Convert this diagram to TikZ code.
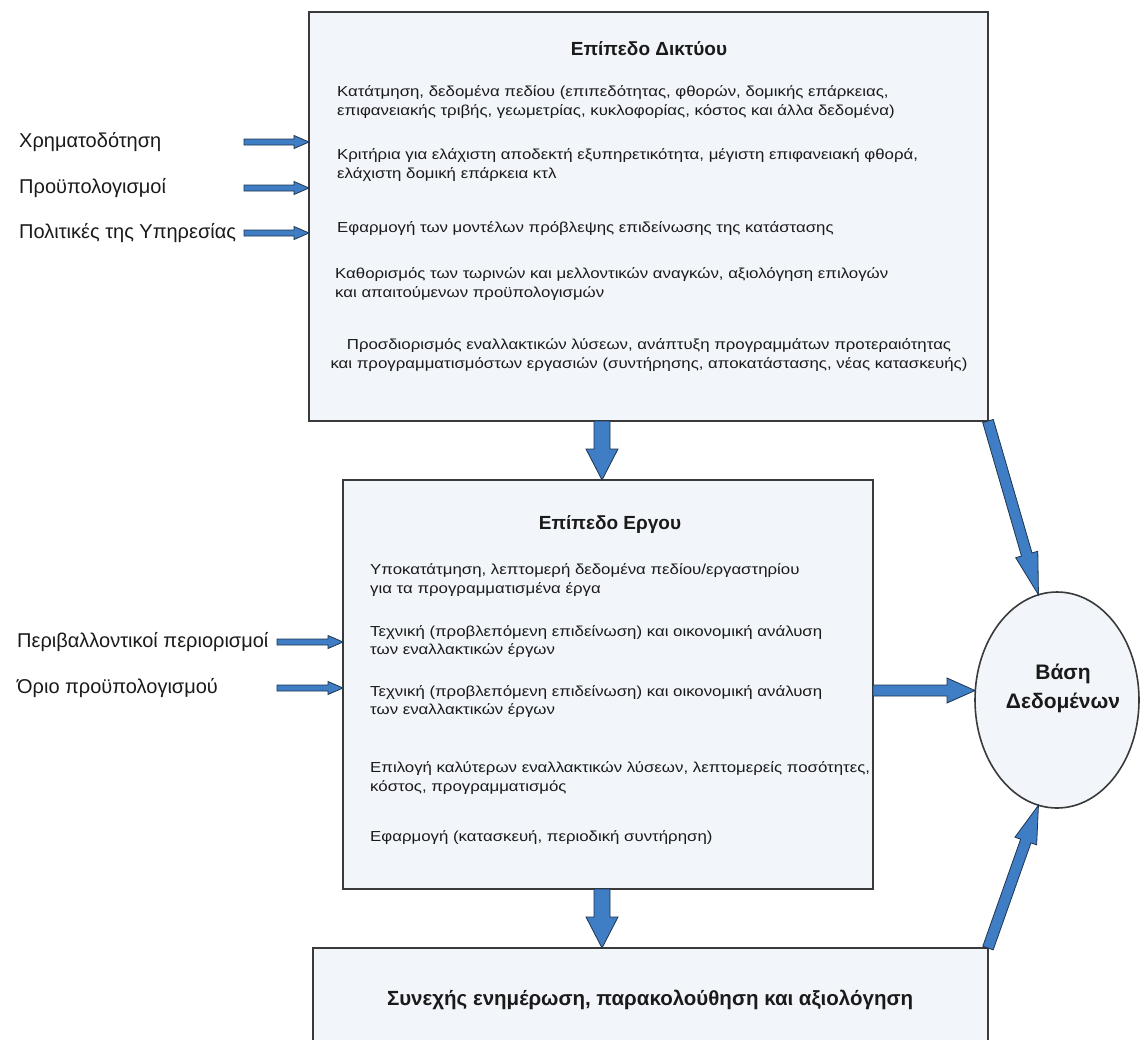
\documentclass[tikz,border=0pt]{standalone}
\usepackage{fontspec}
\setmainfont{Liberation Sans}
\newfontfamily\bodyfont{Liberation Sans}[FakeStretch=1.16]
\usetikzlibrary{calc,shapes.geometric}
\definecolor{panelfill}{HTML}{F2F6FA}
\definecolor{panelline}{HTML}{3A3A3A}
\definecolor{arrowblue}{HTML}{3F7DC4}
\definecolor{arrowline}{HTML}{1F3550}
\definecolor{inktext}{HTML}{1A1A1A}

% Block arrow: #1 start, #2 tip, #3 half shaft width, #4 half head width, #5 head length
\newcommand\blockarrow[5]{%
  \path (#1) coordinate (bas) (#2) coordinate (bae);
  \path ($(bae)!#5!(bas)$) coordinate (bah);
  \filldraw[flowarrow]
    ($(bas)!#3!90:(bae)$) -- ($(bah)!#3!90:(bae)$) -- ($(bah)!#4!90:(bae)$) -- (bae)
    -- ($(bah)!#4!-90:(bae)$) -- ($(bah)!#3!-90:(bae)$) -- ($(bas)!#3!-90:(bae)$) -- cycle;
}

\begin{document}
\begin{tikzpicture}[x=1pt,y=-1pt,
  panel/.style={draw=panelline, line width=1.6pt, fill=panelfill, rectangle, inner sep=0pt, outer sep=0pt, anchor=north west},
  heading/.style={font=\bfseries\fontsize{19}{22}\selectfont, text=inktext, inner sep=0pt},
  body/.style={font=\bodyfont\fontsize{14.5}{18.5}\selectfont, text=inktext, align=left, inner sep=0pt, anchor=west},
  sidelabel/.style={font=\fontsize{20}{23}\selectfont, text=inktext, inner sep=0pt, anchor=west},
  dbtext/.style={font=\bfseries\fontsize{21}{29}\selectfont, text=inktext, align=center, inner sep=0pt},
  flowarrow/.style={fill=arrowblue, draw=arrowline, line width=0.8pt, line join=miter}]

\useasboundingbox[fill=white] (0,0) rectangle (1140,1039);

% panels and the database
\node[panel, minimum width=679pt, minimum height=409pt] (net) at (309,12) {};
\node[panel, minimum width=530pt, minimum height=409pt] (proj) at (343,480) {};
\node[panel, minimum width=675pt, minimum height=120pt] (mon) at (313,948) {};
\node[draw=panelline, line width=1.6pt, fill=panelfill, ellipse, minimum width=164pt, minimum height=216pt, inner sep=0pt, outer sep=0pt] (db) at (1057,700) {};
\node[dbtext] (dblabel) at (1063,688) {Βάση\\Δεδομένων};

% network level
\node[heading] (netT) at (649,49) {Επίπεδο Δικτύου};
\node[body] (n1) at (337,102) {Κατάτμηση, δεδομένα πεδίου (επιπεδότητας, φθορών, δομικής επάρκειας,\\επιφανειακής τριβής, γεωμετρίας, κυκλοφορίας, κόστος και άλλα δεδομένα)};
\node[body] (n2) at (337,165) {Κριτήρια για ελάχιστη αποδεκτή εξυπηρετικότητα, μέγιστη επιφανειακή φθορά,\\ελάχιστη δομική επάρκεια κτλ};
\node[body] (n3) at (337,229) {Εφαρμογή των μοντέλων πρόβλεψης επιδείνωσης της κατάστασης};
\node[body] (n4) at (335,284) {Καθορισμός των τωρινών και μελλοντικών αναγκών, αξιολόγηση επιλογών\\και απαιτούμενων προϋπολογισμών};
\node[body, align=center, anchor=center] (n5) at (649,355) {Προσδιορισμός εναλλακτικών λύσεων, ανάπτυξη προγραμμάτων προτεραιότητας\\και προγραμματισμόστων εργασιών (συντήρησης, αποκατάστασης, νέας κατασκευής)};

% project level
\node[heading] (projT) at (610,524) {Επίπεδο Εργου};
\node[body] (p1) at (370,580) {Υποκατάτμηση, λεπτομερή δεδομένα πεδίου/εργαστηρίου\\για τα προγραμματισμένα έργα};
\node[body] (p2) at (370,641.5) {Τεχνική (προβλεπόμενη επιδείνωση) και οικονομική ανάλυση\\των εναλλακτικών έργων};
\node[body] (p3) at (370,701.5) {Τεχνική (προβλεπόμενη επιδείνωση) και οικονομική ανάλυση\\των εναλλακτικών έργων};
\node[body] (p4) at (370,778) {Επιλογή καλύτερων εναλλακτικών λύσεων, λεπτομερείς ποσότητες,\\κόστος, προγραμματισμός};
\node[body] (p5) at (370,838) {Εφαρμογή (κατασκευή, περιοδική συντήρηση)};

% monitoring
\node[heading, font=\bfseries\fontsize{20.5}{24}\selectfont] (monT) at (650,1000) {Συνεχής ενημέρωση, παρακολούθηση και αξιολόγηση};

% external inputs
\node[sidelabel] (in1) at (19,142) {Χρηματοδότηση};
\node[sidelabel] (in2) at (19,188) {Προϋπολογισμοί};
\node[sidelabel] (in3) at (19,233) {Πολιτικές της Υπηρεσίας};
\node[sidelabel] (in4) at (17,642) {Περιβαλλοντικοί περιορισμοί};
\node[sidelabel] (in5) at (17,688) {Όριο προϋπολογισμού};

% input arrows
\foreach \src in {in1,in2,in3}{
  \blockarrow{$(\src -| net.west)+(-65,0)$}{\src -| net.west}{3pt}{6.5pt}{15pt}
}
\foreach \src in {in4,in5}{
  \blockarrow{$(\src -| proj.west)+(-66,0)$}{\src -| proj.west}{3pt}{6.5pt}{15pt}
}

% flow between levels
\coordinate (axis) at (602,0);
\blockarrow{axis |- net.south}{axis |- proj.north}{8pt}{16pt}{31pt}
\blockarrow{axis |- proj.south}{axis |- mon.north}{8pt}{16pt}{31pt}

% feeds into the database
\path (proj.east) ++(0,6) coordinate (projout);
\blockarrow{projout}{projout -| db.west}{5.5pt}{12.5pt}{28pt}
\blockarrow{net.south east}{db.100}{5.5pt}{11.5pt}{42pt}
\blockarrow{mon.north east}{db.260}{5.5pt}{11.5pt}{38pt}
\end{tikzpicture}
\end{document}
